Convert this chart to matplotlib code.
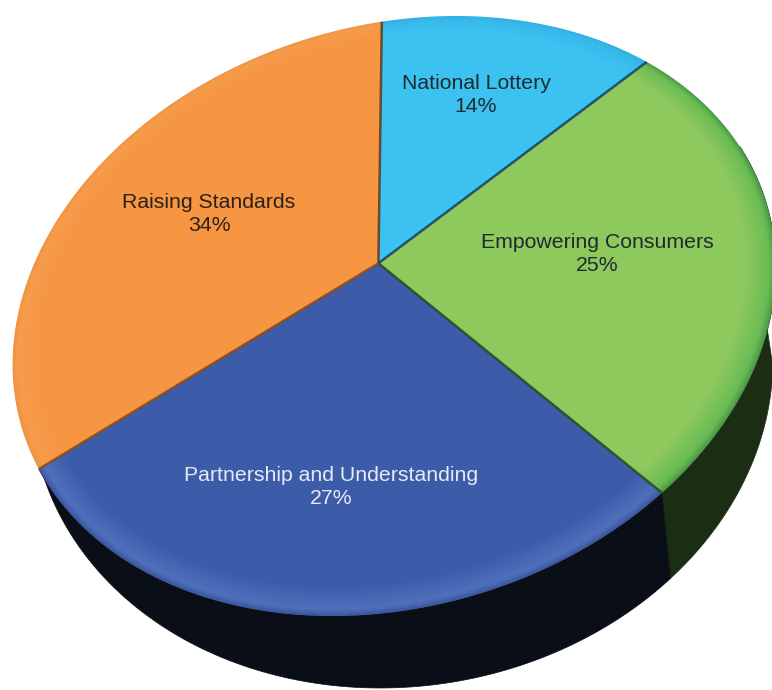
import numpy as np
import matplotlib
matplotlib.use("Agg")
import matplotlib.pyplot as plt
from matplotlib.colors import to_rgb
from matplotlib.path import Path
from matplotlib.transforms import Affine2D, Transform

names = ["National Lottery", "Empowering Consumers", "Partnership and Understanding", "Raising Standards"]
values = [14, 25, 27, 34]

base_colors = ["#3BC2F1", "#8EC95E", "#3C5BA9", "#F69643"]
rim_colors = ["#38B8EA", "#6ABB55", "#5070BC", "#F59C4C"]
edge_colors = ["#33B0E2", "#4C9C46", "#3A58A2", "#EE9443"]
side_colors = ["#1B2E14", "#0A0F17"]
sep_colors = ["#5A3A20", "#17405F", "#2A4A20", "#8A4A18"]
text_colors = ["#1E2A30", "#1E2A30", "#E6EAF4", "#2B2118"]
label_pos = [(476, 95), (597, 254), (331, 487), (209, 214)]

# unit circle -> page pixels, for the top face and for the lower rim of the wall
TOP_H = np.array([[358.2519291, 73.8708504, 378.4080954],
                  [-57.9897961, -237.6032641, 263.279331],
                  [-0.0425953, 0.1844841, 1.0]])
BOTTOM_H = np.array([[520.8743775, 235.6556884, 587.0268368],
                     [243.9928873, -168.3519375, 350.9989561],
                     [0.4433015, 0.2370411, 1.0]])


class Perspective(Transform):
    input_dims = 2
    output_dims = 2
    is_separable = False

    def __init__(self, h):
        super().__init__()
        self.h = h

    def transform_non_affine(self, values):
        values = np.asarray(values, dtype=float)
        q = np.c_[values, np.ones(len(values))] @ self.h.T
        return q[:, :2] / q[:, 2:]

    def transform_path_non_affine(self, path):
        # flatten the curves first, a bezier does not survive the projection
        polys = path.to_polygons(Affine2D().scale(1000), closed_only=False)
        verts = []
        codes = []
        for poly in polys:
            verts.append(self.transform_non_affine(poly / 1000))
            codes += [Path.MOVETO] + [Path.LINETO] * (len(poly) - 1)
        return Path(np.vstack(verts), codes)


def on_circle(angles):
    a = np.radians(angles)
    return np.c_[np.cos(a), np.sin(a)]


edges = 90 - 3.6 * np.cumsum([0] + values)
top = Perspective(TOP_H)
bottom = Perspective(BOTTOM_H)

fig = plt.figure(figsize=(7.72, 6.9), dpi=100)
ax = fig.add_axes([0, 0, 1, 1])


def wall(start, stop, color):
    a = np.linspace(start, stop, 120)
    poly = np.vstack([top.transform(on_circle(a)), bottom.transform(on_circle(a[::-1]))])
    ax.fill(poly[:, 0], poly[:, 1], color=color, lw=0.5, zorder=1)


wall(edges[2], edges[2] + 65, side_colors[0])
wall(edges[3], edges[2], side_colors[1])


def ramp(t, outer, rim, base):
    outer, rim, base = np.array(to_rgb(outer)), np.array(to_rgb(rim)), np.array(to_rgb(base))
    if t < 0.2:
        return outer + (rim - outer) * t / 0.2
    return rim + (base - rim) * (t - 0.2) / 0.8


# nested pies give the soft band along the rim
for t in np.linspace(0, 1, 20):
    colors = [ramp(t, *c) for c in zip(edge_colors, rim_colors, base_colors)]
    wedges, _ = ax.pie(values, colors=colors, startangle=90, counterclock=False,
                       radius=1 - 0.07 * t, wedgeprops={"linewidth": 0})
    for w in wedges:
        w.set_transform(top + ax.transData)
        w.set_zorder(2 + t)

center = top.transform(np.array([[0.0, 0.0]]))[0]
for edge, color in zip(edges[:4], sep_colors):
    rim = top.transform(on_circle([edge]))[0]
    ax.plot([center[0], rim[0]], [center[1], rim[1]], color=color, lw=1.8, alpha=0.85,
            solid_capstyle="butt", zorder=4)

for name, value, pos, color in zip(names, values, label_pos, text_colors):
    ax.text(pos[0], pos[1], f"{name}\n{value}%", ha="center", va="center", color=color,
            fontsize=15.3, family="Liberation Sans", linespacing=1.27, zorder=5)

ax.set_aspect("auto")
ax.set_xlim(0, 772)
ax.set_ylim(690, 0)
ax.axis("off")
fig.savefig("out.png", dpi=100)
